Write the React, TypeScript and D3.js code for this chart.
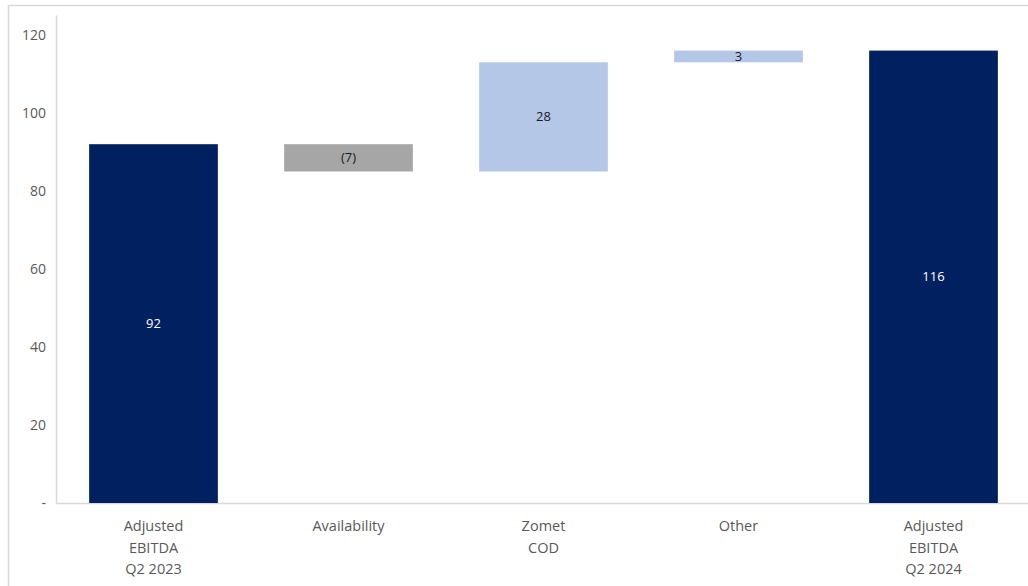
import React from "react";
import * as d3 from "d3";

// Waterfall bridge: Adjusted EBITDA Q2 2023 -> Q2 2024
const categories: string[][] = [
  ["Adjusted", "EBITDA", "Q2 2023"],
  ["Availability"],
  ["Zomet", "COD"],
  ["Other"],
  ["Adjusted", "EBITDA", "Q2 2024"],
];
const values: number[] = [92, -7, 28, 3, 116];
const kinds: string[] = ["total", "delta", "delta", "delta", "total"];
const valueLabels: string[] = ["92", "(7)", "28", "3", "116"];
const yTicks: number[] = [0, 20, 40, 60, 80, 100, 120];

const W = 1028;
const H = 586;
const FONT = "'Open Sans', 'Liberation Sans', sans-serif";

export default function App() {
  const x = d3
    .scaleBand<number>()
    .domain(values.map((_, i) => i))
    .range([56, 1031])
    .paddingInner(0.34)
    .paddingOuter(0.17);
  const y = d3.scaleLinear().domain([0, 125]).range([503, 15.5]);

  // running totals for floating segments
  let running = 0;
  const bars = values.map((v, i) => {
    let y0: number, y1: number;
    if (kinds[i] === "total") {
      y0 = 0;
      y1 = v;
      running = v;
    } else {
      y0 = running;
      y1 = running + v;
      running = y1;
    }
    const color =
      kinds[i] === "total" ? "#002060" : v < 0 ? "#A6A6A6" : "#B4C7E7";
    return { i, lo: Math.min(y0, y1), hi: Math.max(y0, y1), color, total: kinds[i] === "total" };
  });

  return (
    <svg
      width={W}
      height={H}
      style={{ position: "absolute", left: 0, top: 0, background: "#fff" }}
    >
      <rect x={8.5} y={5.5} width={W} height={H} fill="none" stroke="#D9D9D9" strokeWidth={1.5} />
      {/* axes */}
      <line x1={56.5} x2={56.5} y1={y(125)} y2={y(0)} stroke="#D9D9D9" strokeWidth={1.5} />
      <line x1={56} x2={W} y1={y(0) + 0.5} y2={y(0) + 0.5} stroke="#D9D9D9" strokeWidth={1.5} />
      {yTicks.map((t) => (
        <text
          key={t}
          x={46}
          y={y(t)}
          dy="0.35em"
          textAnchor="end"
          fontFamily={FONT}
          fontSize={14}
          fill="#595959"
        >
          {t === 0 ? "-" : t}
        </text>
      ))}
      {bars.map((b) => {
        const bx = x(b.i)!;
        const top = y(b.hi);
        const bottom = y(b.lo);
        return (
          <g key={b.i}>
            <rect x={bx} y={top} width={x.bandwidth()} height={bottom - top} fill={b.color} />
            <text
              x={bx + x.bandwidth() / 2}
              y={(top + bottom) / 2}
              dy="0.35em"
              textAnchor="middle"
              fontFamily={FONT}
              fontSize={13}
              fill={b.total ? "#FFFFFF" : "#1a1a1a"}
            >
              {valueLabels[b.i]}
            </text>
          </g>
        );
      })}
      {categories.map((lines, i) =>
        lines.map((ln, j) => (
          <text
            key={`${i}-${j}`}
            x={x(i)! + x.bandwidth() / 2}
            y={526 + j * 21.5}
            dy="0.35em"
            textAnchor="middle"
            fontFamily={FONT}
            fontSize={14.5}
            fill="#595959"
          >
            {ln}
          </text>
        ))
      )}
    </svg>
  );
}
